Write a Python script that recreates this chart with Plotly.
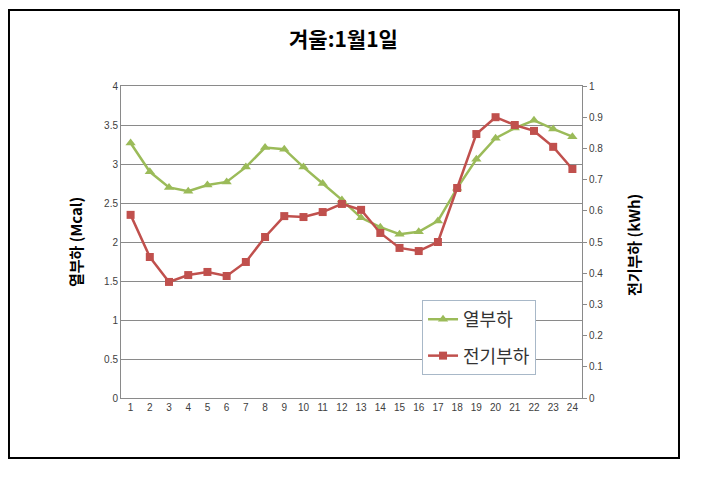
import plotly.graph_objects as go

hours = list(range(1, 25))
heat_load = [3.27, 2.90, 2.70, 2.65, 2.73, 2.77, 2.96, 3.21, 3.19, 2.96, 2.75, 2.54,
             2.31, 2.19, 2.10, 2.13, 2.27, 2.69, 3.06, 3.33, 3.46, 3.56, 3.45, 3.35]
elec_load = [0.587, 0.452, 0.372, 0.394, 0.404, 0.391, 0.436, 0.516, 0.583, 0.580, 0.596, 0.622,
             0.603, 0.529, 0.481, 0.471, 0.500, 0.673, 0.846, 0.900, 0.875, 0.856, 0.805, 0.734]

title_text = "겨울:1월1일"
left_title = "열부하 (Mcal)"
right_title = "전기부하 (kWh)"
names = ["열부하", "전기부하"]

GREEN = "#9BBB59"
RED = "#C0504D"
GRID = "#8a8a8a"
KFONT = "Noto Sans CJK KR"
TFONT = dict(family="Liberation Sans", size=10, color="#404040")

fig = go.Figure()
fig.add_trace(go.Scatter(x=hours, y=heat_load, name=names[0], mode="lines+markers",
                         line=dict(color=GREEN, width=2.5),
                         marker=dict(symbol="triangle-up", size=9, color=GREEN),
                         legendgroup="a", yaxis="y"))
fig.add_trace(go.Scatter(x=hours, y=elec_load, name=names[1], mode="lines+markers",
                         line=dict(color=RED, width=2.5),
                         marker=dict(symbol="square", size=8, color=RED),
                         legendgroup="b", yaxis="y2"))

fig.update_layout(
    width=701, height=485,
    margin=dict(l=113, r=127, t=78, b=95),
    paper_bgcolor="white", plot_bgcolor="white",
    showlegend=True,
    legend=dict(x=0.653, y=0.314, xanchor="left", yanchor="top",
                bordercolor="#a8b8c8", borderwidth=1, bgcolor="white",
                font=dict(family=KFONT, size=18, color="#333"),
                tracegroupgap=10, traceorder="grouped", itemwidth=30,
                entrywidth=125, entrywidthmode="pixels"),
    xaxis=dict(range=[0.5, 24.5], tickmode="array", tickvals=hours,
               ticktext=[str(h) for h in hours], showgrid=False,
               showline=True, linecolor=GRID, linewidth=1, mirror=True,
               ticks="", tickfont=TFONT, zeroline=False),
    yaxis=dict(range=[0, 4], dtick=0.5, showgrid=True, gridcolor=GRID, gridwidth=1,
               showline=True, linecolor=GRID, linewidth=1, ticks="",
               tickfont=TFONT, zeroline=False, tickformat="~g"),
    yaxis2=dict(range=[0, 1], dtick=0.1, overlaying="y", side="right", showgrid=False,
                showline=True, linecolor=GRID, linewidth=1, ticks="outside",
                ticklen=4, tickcolor=GRID, tickfont=TFONT, zeroline=False,
                tickformat="~g"),
    annotations=[
        dict(text="<b>" + title_text + "</b>", xref="paper", yref="paper",
             x=0.4834, y=1, yshift=48, xanchor="center", yanchor="middle",
             showarrow=False, font=dict(family=KFONT, size=21, color="black")),
        dict(text="<b>" + left_title + "</b>", xref="paper", yref="paper",
             x=0, xshift=-46, y=0.5, xanchor="center", yanchor="middle",
             textangle=-90, showarrow=False,
             font=dict(family=KFONT, size=15, color="black")),
        dict(text="<b>" + right_title + "</b>", xref="paper", yref="paper",
             x=1, xshift=51, y=0.49, xanchor="center", yanchor="middle",
             textangle=-90, showarrow=False,
             font=dict(family=KFONT, size=15, color="black")),
    ],
    shapes=[dict(type="rect", xref="paper", yref="paper",
                 x0=-0.243, x1=1.2104, y0=-0.1923, y1=1.2436,
                 line=dict(color="black", width=2))],
)

fig.write_html("out.html")
